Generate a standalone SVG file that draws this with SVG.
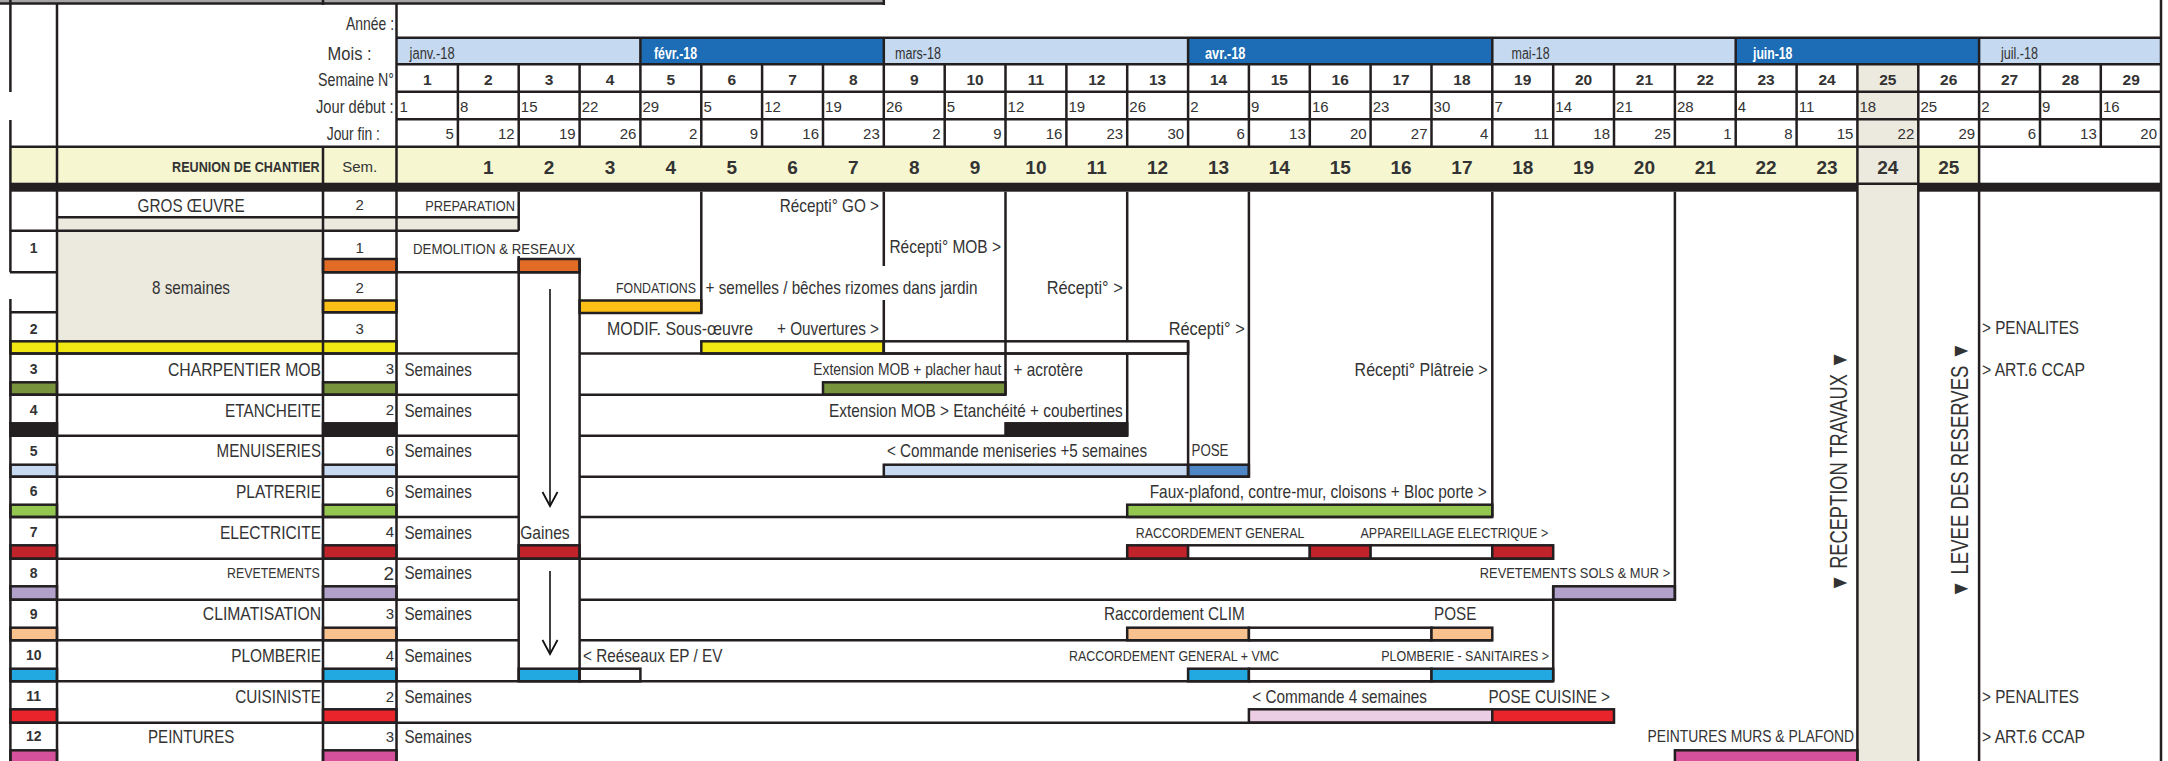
<svg xmlns="http://www.w3.org/2000/svg" width="2168" height="761" viewBox="0 0 2168 761">
<defs>
<marker id="chev" markerUnits="userSpaceOnUse" markerWidth="20" markerHeight="20" viewBox="-16 -10 20 20" refX="0" refY="0" orient="auto" overflow="visible">
<path d="M-14,-7.5 L0,0 L-14,7.5" fill="none" stroke="#111" stroke-width="1.8"/>
</marker>
<style>
.t{font-family:"Liberation Sans",Arial,Helvetica,sans-serif;fill:#333}
.m{font-size:18.5px}
.s{font-size:15.5px}
.b{font-weight:bold}
.e{text-anchor:end}
.c{text-anchor:middle}
.wt{fill:#fff}
.ln{stroke:#231f20;stroke-width:2.5;fill:none}
.bar{stroke:#231f20;stroke-width:2.5}
.wk{font-size:15.5px;font-weight:bold;text-anchor:middle}
.jd{font-size:15px}
.jf{font-size:15px;text-anchor:end}
.rn{font-size:19px;font-weight:bold;text-anchor:middle}
.na{font-size:14px;font-weight:bold;text-anchor:middle}
.nc{font-size:15px}
.mo{font-size:16px}
.rot{font-size:23px;text-anchor:middle}
.be{fill:#ece9df}
.mlb{fill:#c5d9f0}
.mdb{fill:#1c6db5}
.yl{fill:#f6f6d1}
.or{fill:#e26b25}.go{fill:#fbbf15}.ye{fill:#f2e712}.ol{fill:#77933c}.bk{fill:#231f20}
.lb{fill:#c6d9f1}.db{fill:#4f87c6}.lg{fill:#93c74f}.dr{fill:#c0232a}.lv{fill:#b1a0c9}
.pe{fill:#f8c18e}.cy{fill:#23a9e1}.rd{fill:#e9242a}.pk{fill:#d5519b}.lp{fill:#ebcee3}.wh{fill:#fff}
.arrow{stroke:#111;stroke-width:1.6;fill:none}
</style>
</defs>
<rect x="0" y="0" width="2168" height="761" fill="#fff"/>

<g id="header">
<rect x="0" y="0" width="884" height="3" fill="#a5a5a5"/>
<rect class="mlb" x="396.5" y="37.7" width="243.9" height="26.6"/>
<rect class="mdb" x="640.4" y="37.7" width="243.4" height="26.6"/>
<rect class="mlb" x="883.8" y="37.7" width="304.3" height="26.6"/>
<rect class="mdb" x="1188.1" y="37.7" width="304.2" height="26.6"/>
<rect class="mlb" x="1492.3" y="37.7" width="243.4" height="26.6"/>
<rect class="mdb" x="1735.7" y="37.7" width="243.4" height="26.6"/>
<rect class="mlb" x="1979.1" y="37.7" width="181.9" height="26.6"/>
<rect class="be" x="1857.4" y="64.3" width="60.9" height="82.4"/>
<rect class="yl" x="10.4" y="146.7" width="1968.7" height="36"/>
<rect class="be" x="1857.4" y="146.7" width="60.9" height="36"/>
<text class="t m e" x="394" y="30" textLength="48" lengthAdjust="spacingAndGlyphs">Année :</text>
<text class="t m e" x="371.6" y="60" textLength="44" lengthAdjust="spacingAndGlyphs">Mois :</text>
<text class="t m e" x="394" y="85.5" textLength="76" lengthAdjust="spacingAndGlyphs">Semaine N°</text>
<text class="t m e" x="393.5" y="112.5" textLength="77.5" lengthAdjust="spacingAndGlyphs">Jour  début :</text>
<text class="t m e" x="380" y="140" textLength="53.3" lengthAdjust="spacingAndGlyphs">Jour fin :</text>
<text class="t mo" x="409.6" y="59" textLength="45" lengthAdjust="spacingAndGlyphs">janv.-18</text>
<text class="t mo b wt" x="654" y="59" textLength="43" lengthAdjust="spacingAndGlyphs">févr.-18</text>
<text class="t mo" x="895" y="59" textLength="46" lengthAdjust="spacingAndGlyphs">mars-18</text>
<text class="t mo b wt" x="1205" y="59" textLength="40.4" lengthAdjust="spacingAndGlyphs">avr.-18</text>
<text class="t mo" x="1511.6" y="59" textLength="38" lengthAdjust="spacingAndGlyphs">mai-18</text>
<text class="t mo b wt" x="1753" y="59" textLength="39.4" lengthAdjust="spacingAndGlyphs">juin-18</text>
<text class="t mo" x="2001" y="59" textLength="37" lengthAdjust="spacingAndGlyphs">juil.-18</text>
<text class="t wk" y="84.5"><tspan x="427.4">1</tspan><tspan x="488.3">2</tspan><tspan x="549.1">3</tspan><tspan x="610">4</tspan><tspan x="670.8">5</tspan><tspan x="731.7">6</tspan><tspan x="792.5">7</tspan><tspan x="853.4">8</tspan><tspan x="914.2">9</tspan><tspan x="975.1">10</tspan><tspan x="1035.9">11</tspan><tspan x="1096.8">12</tspan><tspan x="1157.6">13</tspan><tspan x="1218.5">14</tspan><tspan x="1279.3">15</tspan><tspan x="1340.2">16</tspan><tspan x="1401">17</tspan><tspan x="1461.9">18</tspan><tspan x="1522.7">19</tspan><tspan x="1583.6">20</tspan><tspan x="1644.4">21</tspan><tspan x="1705.3">22</tspan><tspan x="1766.1">23</tspan><tspan x="1827">24</tspan><tspan x="1887.8">25</tspan><tspan x="1948.7">26</tspan><tspan x="2009.5">27</tspan><tspan x="2070.4">28</tspan><tspan x="2131.2">29</tspan></text>
<text class="t jd" y="111.8"><tspan x="399.5">1</tspan><tspan x="460">8</tspan><tspan x="520.8">15</tspan><tspan x="581.7">22</tspan><tspan x="642.5">29</tspan><tspan x="703.4">5</tspan><tspan x="764.2">12</tspan><tspan x="825.1">19</tspan><tspan x="885.9">26</tspan><tspan x="946.8">5</tspan><tspan x="1007.6">12</tspan><tspan x="1068.5">19</tspan><tspan x="1129.3">26</tspan><tspan x="1190.2">2</tspan><tspan x="1251">9</tspan><tspan x="1311.9">16</tspan><tspan x="1372.7">23</tspan><tspan x="1433.6">30</tspan><tspan x="1494.4">7</tspan><tspan x="1555.3">14</tspan><tspan x="1616.1">21</tspan><tspan x="1677">28</tspan><tspan x="1737.8">4</tspan><tspan x="1798.7">11</tspan><tspan x="1859.5">18</tspan><tspan x="1920.4">25</tspan><tspan x="1981.2">2</tspan><tspan x="2042.1">9</tspan><tspan x="2102.9">16</tspan></text>
<text class="t jf" y="139"><tspan x="453.9">5</tspan><tspan x="514.7">12</tspan><tspan x="575.6">19</tspan><tspan x="636.4">26</tspan><tspan x="697.3">2</tspan><tspan x="758.1">9</tspan><tspan x="819">16</tspan><tspan x="879.8">23</tspan><tspan x="940.7">2</tspan><tspan x="1001.5">9</tspan><tspan x="1062.4">16</tspan><tspan x="1123.2">23</tspan><tspan x="1184.1">30</tspan><tspan x="1244.9">6</tspan><tspan x="1305.8">13</tspan><tspan x="1366.6">20</tspan><tspan x="1427.5">27</tspan><tspan x="1488.3">4</tspan><tspan x="1549.2">11</tspan><tspan x="1610">18</tspan><tspan x="1670.9">25</tspan><tspan x="1731.7">1</tspan><tspan x="1792.6">8</tspan><tspan x="1853.4">15</tspan><tspan x="1914.3">22</tspan><tspan x="1975.1">29</tspan><tspan x="2036">6</tspan><tspan x="2096.8">13</tspan><tspan x="2157">20</tspan></text>
<text class="t b e" x="319.7" y="171.7" font-size="14.5" textLength="147.6" lengthAdjust="spacingAndGlyphs">REUNION DE CHANTIER</text>
<text class="t nc c" x="359.7" y="172">Sem.</text>
<text class="t rn" y="173.5"><tspan x="488.3">1</tspan><tspan x="549.1">2</tspan><tspan x="610">3</tspan><tspan x="670.8">4</tspan><tspan x="731.7">5</tspan><tspan x="792.5">6</tspan><tspan x="853.4">7</tspan><tspan x="914.2">8</tspan><tspan x="975.1">9</tspan><tspan x="1035.9">10</tspan><tspan x="1096.8">11</tspan><tspan x="1157.6">12</tspan><tspan x="1218.5">13</tspan><tspan x="1279.3">14</tspan><tspan x="1340.2">15</tspan><tspan x="1401">16</tspan><tspan x="1461.9">17</tspan><tspan x="1522.7">18</tspan><tspan x="1583.6">19</tspan><tspan x="1644.4">20</tspan><tspan x="1705.3">21</tspan><tspan x="1766.1">22</tspan><tspan x="1827">23</tspan><tspan x="1887.8">24</tspan><tspan x="1948.7">25</tspan></text>
</g>

<g id="backgrounds">
<rect class="be" x="1857.4" y="182.7" width="60.9" height="578.3"/>
<rect class="be" x="57" y="217.3" width="461.7" height="13.4"/>
<rect class="be" x="57" y="230.7" width="266" height="110.6"/>
</g>

<g id="bars">
<rect class="bar or" x="323" y="259" width="73.5" height="13.3"/>
<rect class="bar or" x="518.7" y="259" width="60.9" height="13.3"/>
<rect class="bar go" x="323" y="300.5" width="73.5" height="11.8"/>
<rect class="bar go" x="579.6" y="300.5" width="121.7" height="12.5"/>
<rect class="bar ye" x="10.4" y="341.3" width="386.1" height="12.2"/>
<rect class="bar ye" x="701.3" y="341.3" width="182.5" height="12.2"/>
<rect class="bar wh" x="883.8" y="341.3" width="304.3" height="12.2"/>
<rect class="bar ol" x="10.4" y="382.3" width="46.6" height="12.4"/>
<rect class="bar ol" x="323" y="382.3" width="73.5" height="12.4"/>
<rect class="bar ol" x="823" y="382.3" width="182.5" height="12.4"/>
<rect class="bar bk" x="10.4" y="423.3" width="46.6" height="12.4"/>
<rect class="bar bk" x="323" y="423.3" width="73.5" height="12.4"/>
<rect class="bar bk" x="1005.5" y="423.3" width="121.7" height="12.4"/>
<rect class="bar lb" x="10.4" y="464.7" width="46.6" height="12"/>
<rect class="bar lb" x="323" y="464.7" width="73.5" height="12"/>
<rect class="bar lb" x="883.8" y="464.7" width="304.3" height="12"/>
<rect class="bar db" x="1188.1" y="464.7" width="60.8" height="12"/>
<rect class="bar lg" x="10.4" y="504.7" width="46.6" height="12.3"/>
<rect class="bar lg" x="323" y="504.7" width="73.5" height="12.3"/>
<rect class="bar lg" x="1127.2" y="504.7" width="365.1" height="12.3"/>
<rect class="bar dr" x="10.4" y="545.3" width="46.6" height="13.4"/>
<rect class="bar dr" x="323" y="545.3" width="73.5" height="13.4"/>
<rect class="bar dr" x="518.7" y="545.3" width="60.9" height="13.4"/>
<rect class="bar dr" x="1127.2" y="545.3" width="60.9" height="13.4"/>
<rect class="bar wh" x="1188.1" y="545.3" width="121.7" height="13.4"/>
<rect class="bar dr" x="1309.8" y="545.3" width="60.8" height="13.4"/>
<rect class="bar wh" x="1370.6" y="545.3" width="121.7" height="13.4"/>
<rect class="bar dr" x="1492.3" y="545.3" width="60.9" height="13.4"/>
<rect class="bar lv" x="10.4" y="586.3" width="46.6" height="13.4"/>
<rect class="bar lv" x="323" y="586.3" width="73.5" height="13.4"/>
<rect class="bar lv" x="1553.2" y="586.3" width="121.7" height="13.4"/>
<rect class="bar pe" x="10.4" y="627.7" width="46.6" height="12.6"/>
<rect class="bar pe" x="323" y="627.7" width="73.5" height="12.6"/>
<rect class="bar pe" x="1127.2" y="627.7" width="121.7" height="12.6"/>
<rect class="bar wh" x="1248.9" y="627.7" width="182.6" height="12.6"/>
<rect class="bar pe" x="1431.5" y="627.7" width="60.8" height="12.6"/>
<rect class="bar cy" x="10.4" y="668.7" width="46.6" height="12.6"/>
<rect class="bar cy" x="323" y="668.7" width="73.5" height="12.6"/>
<rect class="bar cy" x="518.7" y="668.7" width="60.9" height="12.6"/>
<rect class="bar wh" x="579.6" y="668.7" width="60.8" height="12.6"/>
<rect class="bar cy" x="1188.1" y="668.7" width="60.8" height="12.6"/>
<rect class="bar wh" x="1248.9" y="668.7" width="182.6" height="12.6"/>
<rect class="bar cy" x="1431.5" y="668.7" width="121.7" height="12.6"/>
<rect class="bar rd" x="10.4" y="709.3" width="46.6" height="13.4"/>
<rect class="bar rd" x="323" y="709.3" width="73.5" height="13.4"/>
<rect class="bar lp" x="1248.9" y="709.3" width="243.4" height="13.4"/>
<rect class="bar rd" x="1492.3" y="709.3" width="121.7" height="13.4"/>
<rect class="bar pk" x="10.4" y="750.3" width="46.6" height="13"/>
<rect class="bar pk" x="323" y="750.3" width="73.5" height="13"/>
<rect class="bar pk" x="1674.9" y="750.3" width="182.5" height="13"/>
</g>

<g id="grid">
<path class="ln" stroke-width="1.5" d="M0,3.5H884"/>
<path class="ln" d="M396.5,37.7H2161 M396.5,64.3H2161 M396.5,91.7H2161 M396.5,119.3H2161 M10,146.7H2161
M457.9,64.3V146.7 M518.7,64.3V146.7 M579.6,64.3V146.7 M701.3,64.3V146.7 M762.1,64.3V146.7 M823,64.3V146.7 M944.7,64.3V146.7 M1005.5,64.3V146.7 M1066.4,64.3V146.7 M1127.2,64.3V146.7 M1248.9,64.3V146.7 M1309.8,64.3V146.7 M1370.6,64.3V146.7 M1431.5,64.3V146.7 M1553.2,64.3V146.7 M1614,64.3V146.7 M1674.9,64.3V146.7 M1796.6,64.3V146.7 M2040,64.3V146.7 M2100.8,64.3V146.7
M640.4,37.7V146.7 M883.8,37.7V146.7 M1188.1,37.7V146.7 M1492.3,37.7V146.7 M1735.7,37.7V146.7
M1857.4,64.3V761 M1918.3,64.3V761 M1979.1,37.7V761
M10.4,0V92 M10.4,120V272.3 M10.4,299V761 M57,3V761 M323,146.7V761 M323,0V5 M396.5,3V761 M883.8,0V5 M2161,0V761
M518.7,191.7V230.7 M518.7,256V681.3 M579.6,259V681.3 M701.3,191.7V313 M883.8,191.7V266 M883.8,300V354 M1005.5,191.7V394.7 M1127.2,191.7V341.3 M1127.2,354V435.7 M1188.1,341.3V476.7 M1248.9,191.7V476.7 M1492.3,191.7V517 M1553.2,586.3V681.3 M1674.9,191.7V599.7
M57,217.3H518.7 M10,230.7H518.7 M10,272.3H57 M323,272.3H579.6 M10,312.3H57 M323,312.3H396.5 M10,353.5H518.7 M579.6,353.5H1188.1 M10,394.7H518.7 M579.6,394.7H1005.5 M10,435.7H518.7 M579.6,435.7H1127.2 M10,476.7H518.7 M579.6,476.7H1248.9 M10,517H518.7 M579.6,517H1492.3 M10,558.7H1553.2 M10,599.7H518.7 M579.6,599.7H1674.9 M10,640.3H518.7 M579.6,640.3H1492.3 M10,681.3H1553.2 M10,722.7H1614"/>
<rect x="10.4" y="182.7" width="1847" height="9" fill="#231f20"/>
<rect x="1918.3" y="182.7" width="242.7" height="9" fill="#231f20"/>
<path class="ln" d="M1857.4,183.8H1918.3"/>
</g>

<g id="row-gros-oeuvre">
<text class="t m" x="137.6" y="211.7" textLength="107" lengthAdjust="spacingAndGlyphs">GROS ŒUVRE</text>
<text class="t nc c" x="359.7" y="210.3">2</text>
<text class="t s" x="425.2" y="210.6" textLength="89.8" lengthAdjust="spacingAndGlyphs">PREPARATION</text>
<text class="t m e" x="879" y="211.7" textLength="99.2" lengthAdjust="spacingAndGlyphs">Récepti° GO &gt;</text>
</g>

<g id="row-1">
<text class="t na" x="33.7" y="253">1</text>
<text class="t nc c" x="359.7" y="253.3">1</text>
<text class="t s" x="413" y="253.6" textLength="162" lengthAdjust="spacingAndGlyphs">DEMOLITION &amp; RESEAUX</text>
<text class="t m" x="889.4" y="252.5" textLength="111.6" lengthAdjust="spacingAndGlyphs">Récepti° MOB &gt;</text>
</g>

<g id="row-fondations">
<text class="t m" x="152" y="294" textLength="78" lengthAdjust="spacingAndGlyphs">8 semaines</text>
<text class="t nc c" x="359.7" y="292.6">2</text>
<text class="t s" x="616" y="292.9" textLength="80" lengthAdjust="spacingAndGlyphs">FONDATIONS</text>
<text class="t m" x="705.5" y="294" textLength="272" lengthAdjust="spacingAndGlyphs">+ semelles / bêches rizomes dans jardin</text>
<text class="t m" x="1046.7" y="294" textLength="76" lengthAdjust="spacingAndGlyphs">Récepti°  &gt;</text>
</g>

<g id="row-2">
<text class="t na" x="33.7" y="334">2</text>
<text class="t nc c" x="359.7" y="334">3</text>
<text class="t m" x="607" y="334.7" textLength="146" lengthAdjust="spacingAndGlyphs">MODIF.  Sous-œuvre</text>
<text class="t m" x="777" y="334.7" textLength="102" lengthAdjust="spacingAndGlyphs">+ Ouvertures &gt;</text>
<text class="t m" x="1168.7" y="334.7" textLength="76" lengthAdjust="spacingAndGlyphs">Récepti°  &gt;</text>
<text class="t m" x="1982" y="334.2" textLength="97" lengthAdjust="spacingAndGlyphs">&gt; PENALITES</text>
</g>

<g id="row-3">
<text class="t na" x="33.7" y="374">3</text>
<text class="t m e" x="321" y="375.7" textLength="153" lengthAdjust="spacingAndGlyphs">CHARPENTIER  MOB</text>
<text class="t nc e" x="394" y="374.4">3</text>
<text class="t m" x="404.4" y="375.7" textLength="67.4" lengthAdjust="spacingAndGlyphs">Semaines</text>
<text class="t" x="813.3" y="374.8" font-size="16" textLength="188" lengthAdjust="spacingAndGlyphs">Extension MOB + placher haut</text>
<text class="t m" x="1013.5" y="375.7" textLength="69.5" lengthAdjust="spacingAndGlyphs">+ acrotère</text>
<text class="t m" x="1354.6" y="375.7" textLength="133" lengthAdjust="spacingAndGlyphs">Récepti° Plâtreie  &gt;</text>
<text class="t m" x="1982" y="375.7" textLength="103" lengthAdjust="spacingAndGlyphs">&gt; ART.6 CCAP</text>
</g>

<g id="row-4">
<text class="t na" x="33.7" y="415">4</text>
<text class="t m e" x="321" y="416.7" textLength="96" lengthAdjust="spacingAndGlyphs">ETANCHEITE</text>
<text class="t nc e" x="394" y="415.4">2</text>
<text class="t m" x="404.4" y="416.7" textLength="67.4" lengthAdjust="spacingAndGlyphs">Semaines</text>
<text class="t m" x="829" y="416.7" textLength="293.7" lengthAdjust="spacingAndGlyphs">Extension MOB &gt; Etanchéité + coubertines</text>
</g>

<g id="row-5">
<text class="t na" x="33.7" y="455.7">5</text>
<text class="t m e" x="321" y="457.4" textLength="104.4" lengthAdjust="spacingAndGlyphs">MENUISERIES</text>
<text class="t nc e" x="394" y="456">6</text>
<text class="t m" x="404.4" y="457.4" textLength="67.4" lengthAdjust="spacingAndGlyphs">Semaines</text>
<text class="t m" x="887" y="457.4" textLength="260" lengthAdjust="spacingAndGlyphs">&lt; Commande meniseries +5 semaines</text>
<text class="t" x="1191.5" y="456.3" font-size="16" textLength="37" lengthAdjust="spacingAndGlyphs">POSE</text>
</g>

<g id="row-6">
<text class="t na" x="33.7" y="496.3">6</text>
<text class="t m e" x="321" y="498" textLength="85" lengthAdjust="spacingAndGlyphs">PLATRERIE</text>
<text class="t nc e" x="394" y="496.7">6</text>
<text class="t m" x="404.4" y="498" textLength="67.4" lengthAdjust="spacingAndGlyphs">Semaines</text>
<text class="t m" x="1149.7" y="498" textLength="337" lengthAdjust="spacingAndGlyphs">Faux-plafond, contre-mur, cloisons + Bloc porte &gt;</text>
</g>

<g id="row-7">
<text class="t na" x="33.7" y="537">7</text>
<text class="t m e" x="321" y="538.7" textLength="101" lengthAdjust="spacingAndGlyphs">ELECTRICITE</text>
<text class="t nc e" x="394" y="537.4">4</text>
<text class="t m" x="404.4" y="538.7" textLength="67.4" lengthAdjust="spacingAndGlyphs">Semaines</text>
<text class="t m" x="520.2" y="538.7" textLength="49.5" lengthAdjust="spacingAndGlyphs">Gaines</text>
<text class="t s" x="1135.8" y="537.6" textLength="168.7" lengthAdjust="spacingAndGlyphs">RACCORDEMENT GENERAL</text>
<text class="t s" x="1360.5" y="537.6" textLength="187.7" lengthAdjust="spacingAndGlyphs">APPAREILLAGE ELECTRIQUE &gt;</text>
</g>

<g id="row-8">
<text class="t na" x="33.7" y="577.7">8</text>
<text class="t e" x="319.7" y="577.7" font-size="14" textLength="92.7" lengthAdjust="spacingAndGlyphs">REVETEMENTS</text>
<text class="t e" x="394" y="579.5" font-size="19">2</text>
<text class="t m" x="404.4" y="579.4" textLength="67.4" lengthAdjust="spacingAndGlyphs">Semaines</text>
<text class="t s" x="1479.8" y="578.3" textLength="190.4" lengthAdjust="spacingAndGlyphs">REVETEMENTS  SOLS &amp; MUR &gt;</text>
</g>

<g id="row-9">
<text class="t na" x="33.7" y="618.7">9</text>
<text class="t m e" x="321" y="620.4" textLength="118.2" lengthAdjust="spacingAndGlyphs">CLIMATISATION</text>
<text class="t nc e" x="394" y="619">3</text>
<text class="t m" x="404.4" y="620.4" textLength="67.4" lengthAdjust="spacingAndGlyphs">Semaines</text>
<text class="t m" x="1104" y="620.4" textLength="140.7" lengthAdjust="spacingAndGlyphs">Raccordement CLIM</text>
<text class="t m" x="1434" y="620.4" textLength="42.3" lengthAdjust="spacingAndGlyphs">POSE</text>
</g>

<g id="row-10">
<text class="t na" x="33.7" y="660.3">10</text>
<text class="t m e" x="321" y="662" textLength="89.8" lengthAdjust="spacingAndGlyphs">PLOMBERIE</text>
<text class="t nc e" x="394" y="660.7">4</text>
<text class="t m" x="404.4" y="662" textLength="67.4" lengthAdjust="spacingAndGlyphs">Semaines</text>
<text class="t m" x="583" y="662" textLength="139.4" lengthAdjust="spacingAndGlyphs">&lt; Reéseaux EP / EV</text>
<text class="t s" x="1069" y="660.9" textLength="210" lengthAdjust="spacingAndGlyphs">RACCORDEMENT GENERAL + VMC</text>
<text class="t s" x="1381.3" y="660.9" textLength="167.7" lengthAdjust="spacingAndGlyphs">PLOMBERIE - SANITAIRES &gt;</text>
</g>

<g id="row-11">
<text class="t na" x="33.7" y="701.3">11</text>
<text class="t m e" x="321" y="703" textLength="85.8" lengthAdjust="spacingAndGlyphs">CUISINISTE</text>
<text class="t nc e" x="394" y="701.7">2</text>
<text class="t m" x="404.4" y="703" textLength="67.4" lengthAdjust="spacingAndGlyphs">Semaines</text>
<text class="t m" x="1252.3" y="703" textLength="174.6" lengthAdjust="spacingAndGlyphs">&lt; Commande 4 semaines</text>
<text class="t m" x="1488.4" y="703" textLength="121.6" lengthAdjust="spacingAndGlyphs">POSE CUISINE &gt;</text>
<text class="t m" x="1982" y="703" textLength="97" lengthAdjust="spacingAndGlyphs">&gt; PENALITES</text>
</g>

<g id="row-12">
<text class="t na" x="33.7" y="741.3">12</text>
<text class="t m" x="148" y="743" textLength="86.4" lengthAdjust="spacingAndGlyphs">PEINTURES</text>
<text class="t nc e" x="394" y="741.7">3</text>
<text class="t m" x="404.4" y="743" textLength="67.4" lengthAdjust="spacingAndGlyphs">Semaines</text>
<text class="t" x="1647.4" y="742" font-size="16" textLength="206.6" lengthAdjust="spacingAndGlyphs">PEINTURES MURS &amp; PLAFOND</text>
<text class="t m" x="1982" y="743" textLength="103" lengthAdjust="spacingAndGlyphs">&gt; ART.6 CCAP</text>
</g>

<g id="milestones">
<text class="t rot" transform="translate(1847,471.5) rotate(-90)" textLength="241" lengthAdjust="spacingAndGlyphs">▼ RECEPTION TRAVAUX ▼</text>
<text class="t rot" transform="translate(1968,470) rotate(-90)" textLength="256" lengthAdjust="spacingAndGlyphs">▼ LEVEE DES RESERVES ▼</text>
</g>

<g id="connectors">
<path class="arrow" d="M550,289V506" marker-end="url(#chev)"/>
<path class="arrow" d="M550,571V654" marker-end="url(#chev)"/>
</g>
</svg>
